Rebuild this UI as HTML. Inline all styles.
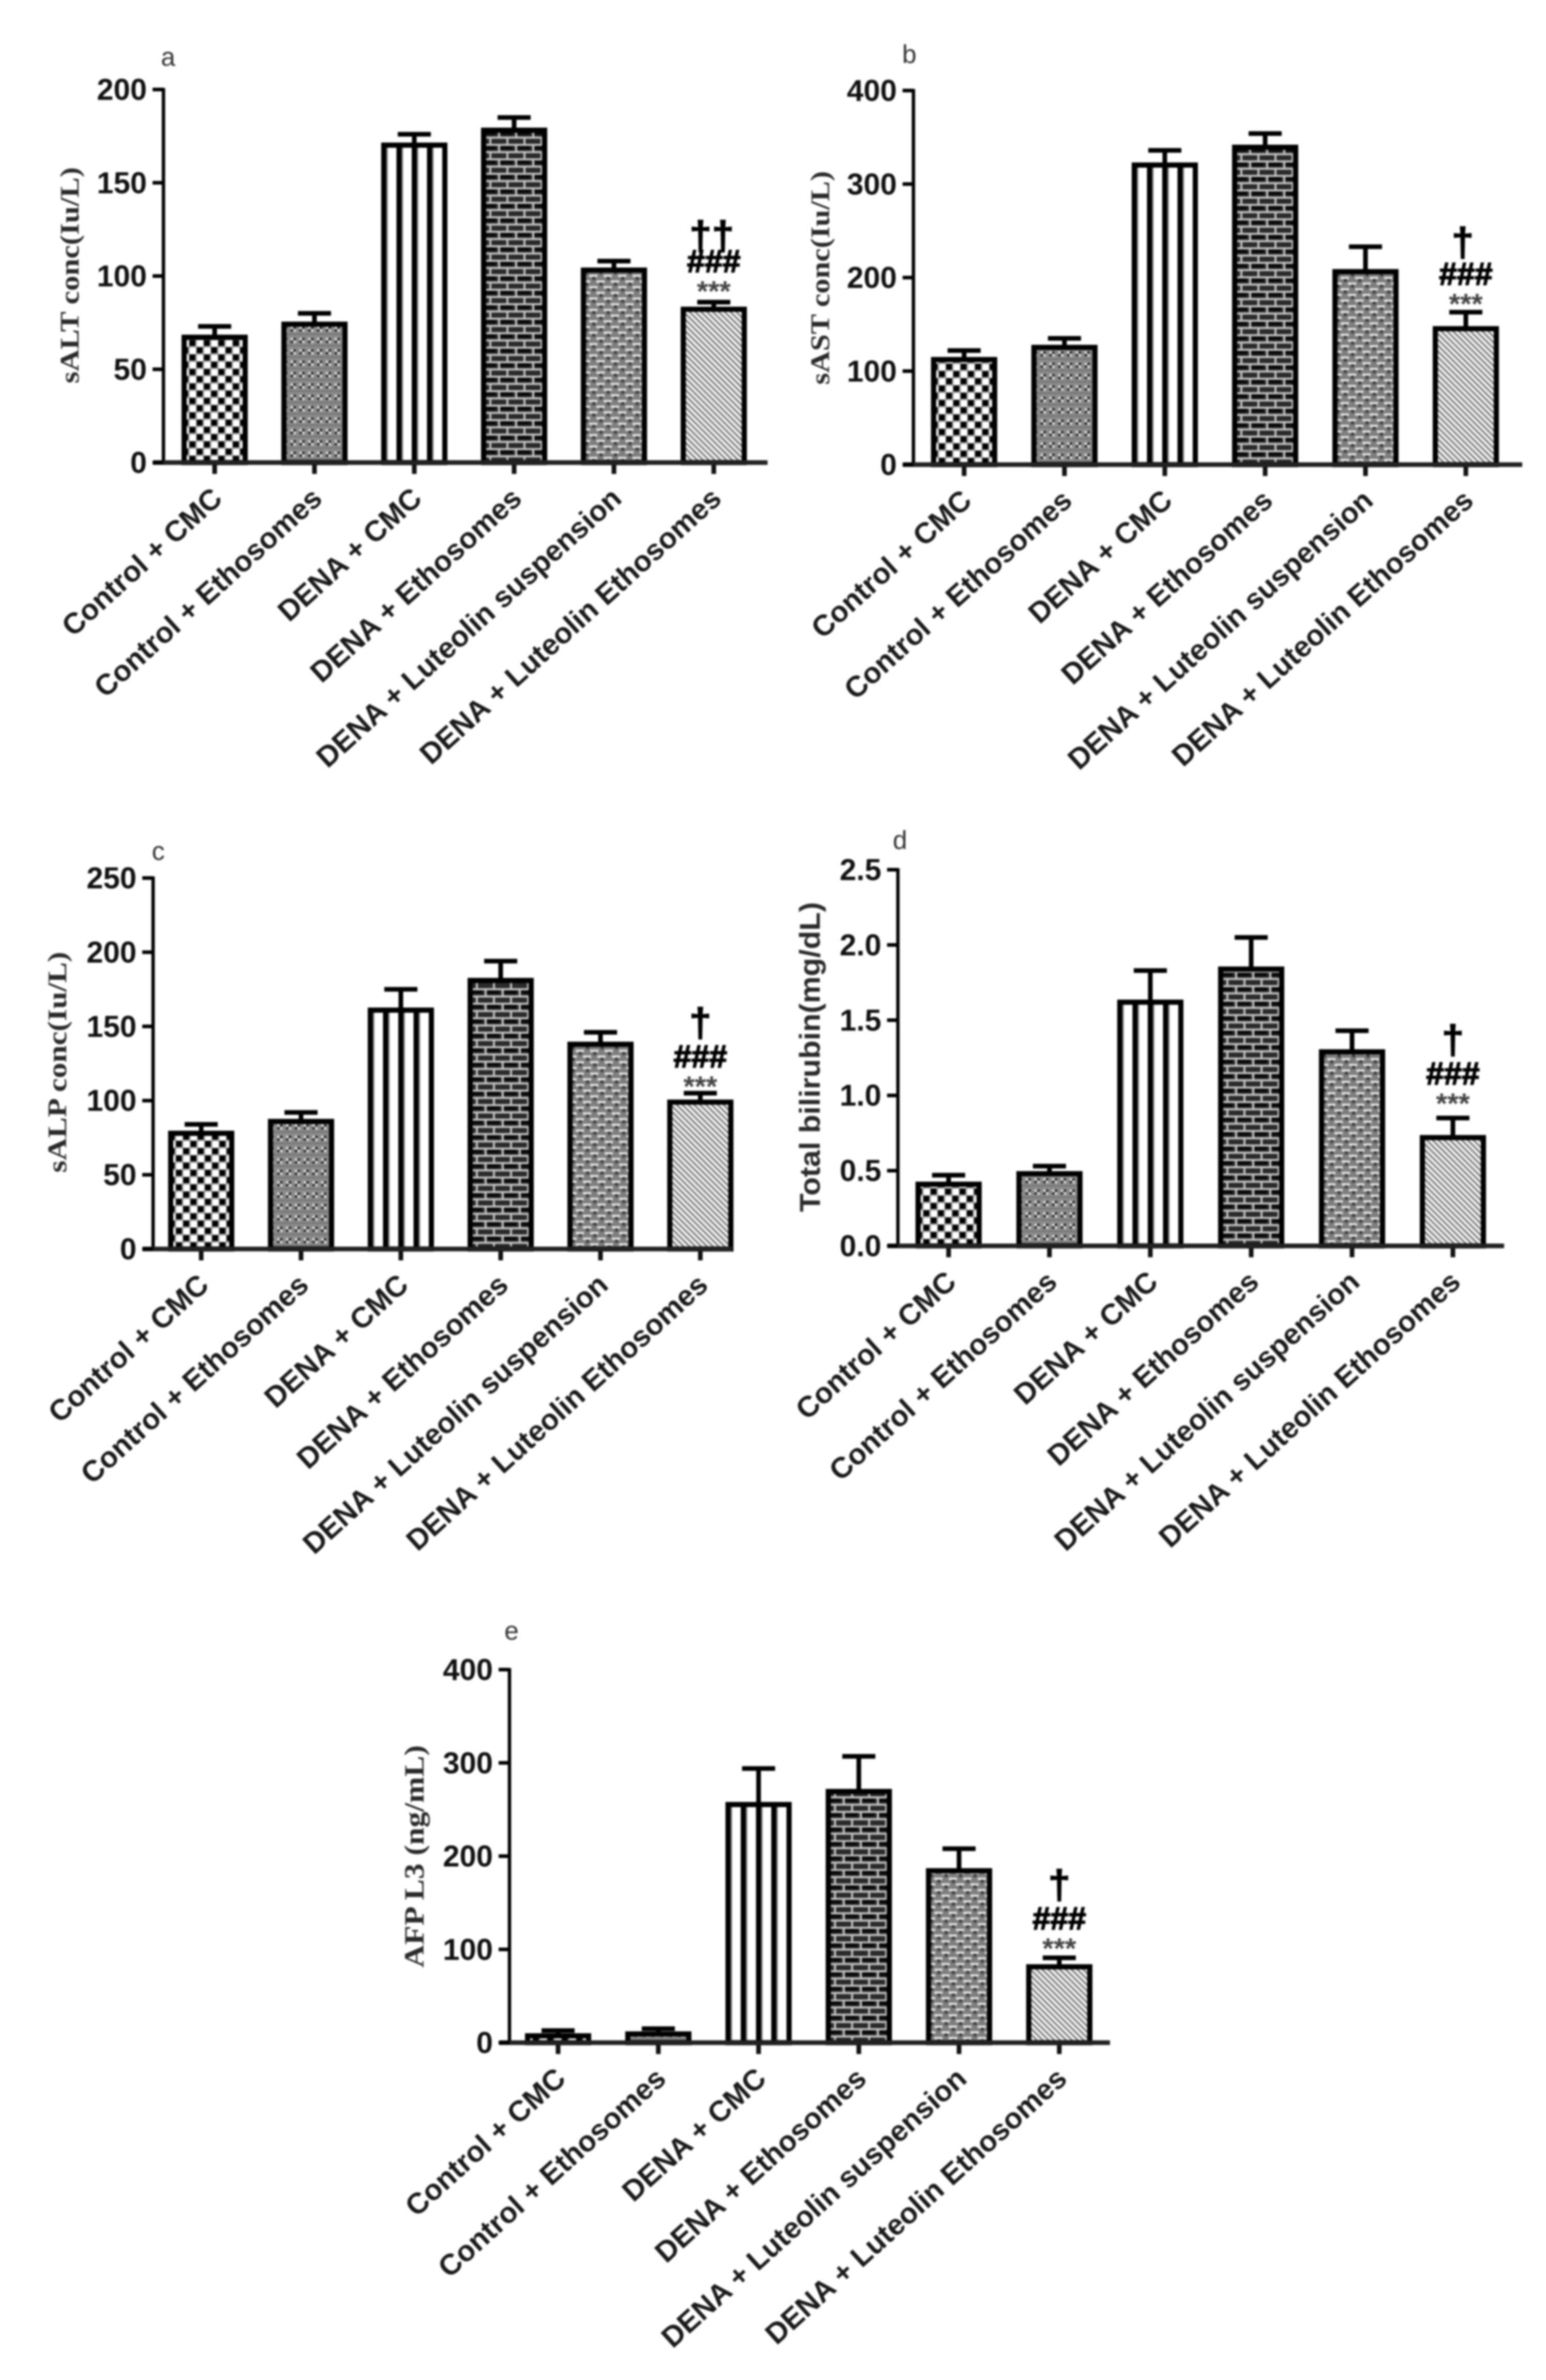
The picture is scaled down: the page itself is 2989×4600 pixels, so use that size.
<!DOCTYPE html>
<html lang="en">
<head>
<meta charset="utf-8">
<title>Liver biomarker bar charts</title>
<style>
html,body{margin:0;padding:0;background:#fff;width:2989px;height:4600px;overflow:hidden}
svg{display:block}
#figure{filter:blur(1.8px)}
</style>
</head>
<body>
<svg id="chart" xmlns="http://www.w3.org/2000/svg" width="2989" height="4600" viewBox="0 0 2989 4600">
<rect width="2989" height="4600" fill="#fff"/>
<defs id="defs"></defs>
<g id="figure"></g>
</svg>
<script>
const categories = ["Control + CMC","Control + Ethosomes","DENA + CMC","DENA + Ethosomes","DENA + Luteolin suspension","DENA + Luteolin Ethosomes"];

const meansA = [68,75,171,179,104,83];
const upperA = [73,80,176,185,108,86];
const ticksA = [0,50,100,150,200];
const tickLabelsA = ["0","50","100","150","200"];

const meansB = [114,127,322,341,208,147];
const upperB = [122,135,336,354,233,163];
const ticksB = [0,100,200,300,400];
const tickLabelsB = ["0","100","200","300","400"];

const meansC = [79,87,162,182,139,100];
const upperC = [84,92,175,194,146,105];
const ticksC = [0,50,100,150,200,250];
const tickLabelsC = ["0","50","100","150","200","250"];

const meansD = [0.42,0.49,1.63,1.85,1.30,0.73];
const upperD = [0.47,0.53,1.83,2.05,1.43,0.85];
const ticksD = [0,0.5,1,1.5,2,2.5];
const tickLabelsD = ["0.0","0.5","1.0","1.5","2.0","2.5"];

const meansE = [9,11,257,271,186,83];
const upperE = [13,15,294,307,208,91];
const ticksE = [0,100,200,300,400];
const tickLabelsE = ["0","100","200","300","400"];

const NS = "http://www.w3.org/2000/svg";
const root = document.getElementById("figure");
const defs = document.getElementById("defs");

function mk(tag, attrs, parent, text){
  const el = document.createElementNS(NS, tag);
  for (const k in attrs) el.setAttribute(k, attrs[k]);
  if (text !== undefined) el.textContent = text;
  if (parent) parent.appendChild(el);
  return el;
}

function buildPattern(id, kind, left, y0, barW){
  let w, h, tf = "translate(" + left + " " + y0 + ")";
  if (kind === 0){ w = 28; h = 28; }
  if (kind === 1){ w = 17; h = 22; }
  if (kind === 2){ w = (barW - 10) / 4; h = 20; tf = "translate(" + (left + 5) + " " + y0 + ")"; }
  if (kind === 3){ w = 33; h = 28; }
  if (kind === 4){ w = 28; h = 22; }
  if (kind === 5){ w = 8; h = 8; tf += " rotate(-45)"; }
  const p = mk("pattern", {id:id, patternUnits:"userSpaceOnUse", width:w, height:h, patternTransform:tf}, defs);
  const r = (x,y,rw,rh,f) => mk("rect", {x:x, y:y, width:rw, height:rh, fill:f}, p);
  if (kind === 0){
    r(0,0,28,28,"#fff");
    r(1,1,12,12,"#000");
    r(15,15,12,12,"#000");
    r(0,0,28,1.5,"#808080");
    r(0,14,28,1.5,"#808080");
    r(0,0,1.5,28,"#808080");
    r(14,0,1.5,28,"#808080");
  }
  if (kind === 1){
    r(0,0,17,22,"#8a8a8a");
    r(1,1,5,5,"#e0e0e0");
    r(6,1,5,5,"#2a2a2a");
    r(1,6,5,5,"#2a2a2a");
    r(6,6,5,5,"#e0e0e0");
    r(0,15,17,2,"#6e6e6e");
  }
  if (kind === 2){
    r(0,0,w,h,"#fff");
    r(-5,0,10,h,"#000");
    r(w-5,0,10,h,"#000");
    r(5,0,3,h,"#8a8a8a");
  }
  if (kind === 3){
    r(0,0,33,28,"#2b2b2b");
    r(3,3,26,8,"#0a0a0a");
    r(0,0,33,4,"#c4c4c4");
    r(0,14,33,4,"#c4c4c4");
    r(0,0,4,14,"#c4c4c4");
    r(16,14,4,14,"#c4c4c4");
  }
  if (kind === 4){
    r(0,0,28,22,"#7e7e7e");
    r(2,0,16,4.5,"#e6e6e6");
    r(16,11,16,4.5,"#e6e6e6");
    r(-12,11,16,4.5,"#e6e6e6");
    r(8,4,6,6,"#3c3c3c");
    r(22,15,6,6,"#3c3c3c");
    r(-6,15,6,6,"#3c3c3c");
  }
  if (kind === 5){
    r(0,0,8,8,"#fff");
    r(0,0,4,8,"#858585");
  }
}

function drawPanel(cfg){
  const g = mk("g", {}, root);
  
  
  const yMax = cfg.ticks[cfg.ticks.length - 1];
  const yScale = v => cfg.y0 - (v / yMax) * (cfg.y0 - cfg.yTop);
  const xBand = i => cfg.firstX + i * cfg.step;
  const barW = 128;

  const letter = mk("text", {x:cfg.letterX, y:cfg.letterY, "font-family":"'Liberation Sans',sans-serif", "font-size":50, fill:"#333", "text-anchor":"middle"}, g, cfg.letter);
  
  

  cfg.means.forEach((m,i) => {
    const cx = xBand(i), top = yScale(m) + 3, errY = yScale(cfg.upper[i]);
    const left = cx - barW/2;
    const pid = "pat-" + cfg.letter + "-" + i;
    buildPattern(pid, i, left, cfg.y0, barW);

    const stem = mk("line", {x1:cx, x2:cx, y1:top, y2:errY, stroke:"#000", "stroke-width":9}, g);
    
    
    const cap = mk("line", {x1:cx-32, x2:cx+32, y1:errY, y2:errY, stroke:"#000", "stroke-width":9}, g);
    
    

    const bar = mk("rect", {x:left+5, y:top, width:barW-10, height:Math.max(cfg.y0-top,0), fill:"url(#"+pid+")", stroke:"#000", "stroke-width":10}, g);
    
    

    const tick = mk("line", {x1:cx, x2:cx, y1:cfg.y0, y2:cfg.y0+22, stroke:"#111", "stroke-width":9}, g);
    
    

    const ax = cx + 18, ay = cfg.y0 + 74;
    const lab = mk("text", {x:ax, y:ay, "text-anchor":"end", transform:"rotate(-42.2 "+ax+" "+ay+")", "font-family":"'Liberation Sans',sans-serif", "font-weight":"bold", "font-size":56.5, fill:"#1a1a1a"}, g, categories[i]);
    
    
  });

  const yAxis = mk("line", {x1:cfg.axisX, x2:cfg.axisX, y1:cfg.yTop-3, y2:cfg.y0, stroke:"#000", "stroke-width":6.5}, g);
  
  

  const xAxis = mk("line", {x1:cfg.axisX-20, x2:cfg.axisEnd, y1:cfg.y0, y2:cfg.y0, stroke:"#222", "stroke-width":9}, g);
  
  

  cfg.ticks.forEach((t,i) => {
    const y = yScale(t);
    const tk = mk("line", {x1:cfg.axisX-21, x2:cfg.axisX, y1:y, y2:y, stroke:"#000", "stroke-width":7}, g);
    
    
    const tl = mk("text", {x:cfg.axisX-32, y:y+20, "text-anchor":"end", "font-family":"'Liberation Sans',sans-serif", "font-weight":"bold", "font-size":58, fill:"#111"}, g, cfg.tickLabels[i]);
    
    
  });

  const tbx = cfg.titleX + 19, tby = cfg.titleY;
  const title = mk("text", {x:tbx, y:tby, "text-anchor":"middle", transform:"rotate(-90 "+tbx+" "+tby+")", "font-family":cfg.titleFont, "font-weight":"bold", "font-size":cfg.titleSize, fill:"#2a2a2a", textLength:cfg.titleLen, lengthAdjust:"spacingAndGlyphs"}, g, cfg.title);
  
  

  const ax6 = xBand(5), bottom = yScale(cfg.upper[5]) - cfg.gap;
  const stars = mk("text", {x:ax6, y:bottom+20, "text-anchor":"middle", "font-family":"'Liberation Sans',sans-serif", "font-weight":"bold", "font-size":56, fill:"#444"}, g, "***");
  
  
  const hashes = mk("text", {x:ax6, y:bottom-36, "text-anchor":"middle", "font-family":"'Liberation Sans',sans-serif", "font-weight":"bold", "font-size":62, fill:"#000", stroke:"#000", "stroke-width":2}, g, "###");
  
  
  const dag = mk("text", {x:ax6 + cfg.daggerDx, y:bottom-96 + cfg.daggerDy, "text-anchor":"middle", "font-family":"'Liberation Sans',sans-serif", "font-weight":"bold", "font-size":78, fill:"#000", stroke:"#000", "stroke-width":1.5}, g, cfg.dagger);
  
  
}

const serif = "'Liberation Serif',serif";
const sans = "'Liberation Sans',sans-serif";

drawPanel({letter:"a", letterX:325, letterY:127, axisX:316, axisEnd:1484, yTop:173, y0:894, firstX:415, step:193, means:meansA, upper:upperA, ticks:ticksA, tickLabels:tickLabelsA, title:"sALT conc(Iu/L)", titleX:133, titleY:532, titleLen:418, titleFont:serif, titleSize:52, dagger:"††", gap:22, daggerDx:-4, daggerDy:16});
drawPanel({letter:"b", letterX:1758, letterY:122, axisX:1766, axisEnd:2943, yTop:175, y0:898, firstX:1864, step:194, means:meansB, upper:upperB, ticks:ticksB, tickLabels:tickLabelsB, title:"sAST conc(Iu/L)", titleX:1584, titleY:537, titleLen:413, titleFont:serif, titleSize:52, dagger:"†", gap:17, daggerDx:-6, daggerDy:4});
drawPanel({letter:"c", letterX:306, letterY:1662, axisX:296, axisEnd:1415, yTop:1697, y0:2414, firstX:389, step:193, means:meansC, upper:upperC, ticks:ticksC, tickLabels:tickLabelsC, title:"sALP conc(Iu/L)", titleX:109, titleY:2053, titleLen:427, titleFont:serif, titleSize:52, dagger:"†", gap:14, daggerDx:0, daggerDy:0});
drawPanel({letter:"d", letterX:1740, letterY:1641, axisX:1736, axisEnd:2908, yTop:1681, y0:2408, firstX:1834, step:195, means:meansD, upper:upperD, ticks:ticksD, tickLabels:tickLabelsD, title:"Total bilirubin(mg/dL)", titleX:1566, titleY:2043, titleLen:599, titleFont:sans, titleSize:56, dagger:"†", gap:29, daggerDx:0, daggerDy:0});
drawPanel({letter:"e", letterX:989, letterY:3169, axisX:985, axisEnd:2146, yTop:3227, y0:3948, firstX:1079, step:193.8, means:meansE, upper:upperE, ticks:ticksE, tickLabels:tickLabelsE, title:"AFP L3 (ng/mL)", titleX:800, titleY:3588, titleLen:430, titleFont:serif, titleSize:54, dagger:"†", gap:19, daggerDx:0, daggerDy:0});
</script>
</body>
</html>
